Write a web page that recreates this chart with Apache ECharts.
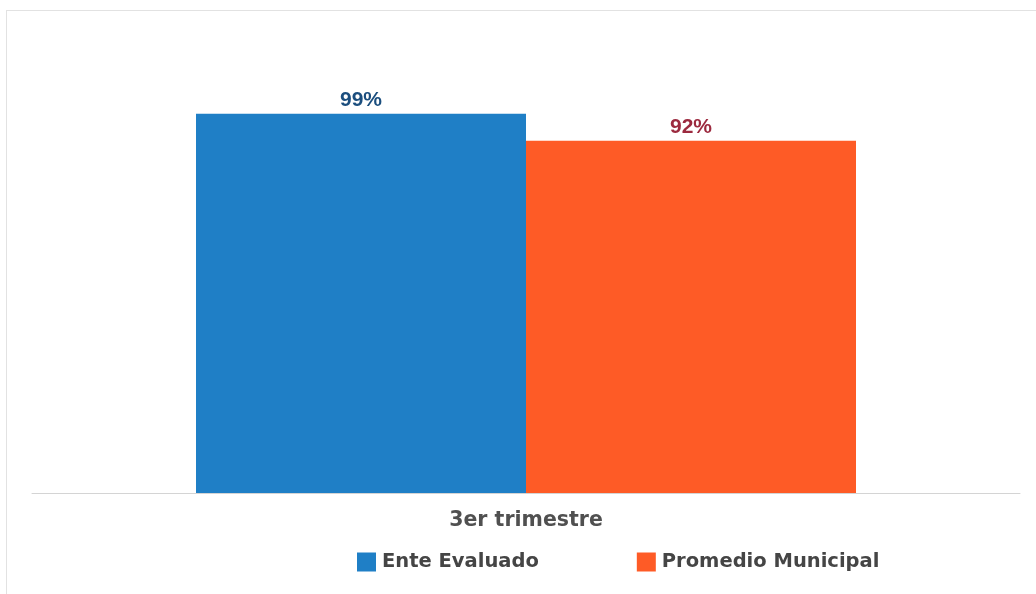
<!DOCTYPE html>
<html>
<head>
<meta charset="utf-8">
<script src="https://cdn.jsdelivr.net/npm/echarts@6/dist/echarts.min.js"></script>
<style>
    html, body { margin: 0; padding: 0; background: #fff; }
    #frame {
        position: absolute; left: 6px; top: 10px; width: 1040px; height: 600px;
        border-top: 1px solid #e2e2e2; border-left: 1px solid #e2e2e2;
    }
    #chart { position: absolute; left: 0; top: 0; width: 1036px; height: 594px; }
</style>
</head>
<body>
<div id="frame"></div>
<div id="chart"></div>
<script>
    // datos del gráfico
    const categories = ['3er trimestre'];
    const seriesNames = ['Ente Evaluado', 'Promedio Municipal'];
    const enteEvaluado = [99];
    const promedioMunicipal = [92];

    const barColors = ['#1f7fc6', '#fe5b26'];
    const labelColors = ['#1b4e7e', '#9c2a3f'];

    const chart = echarts.init(document.getElementById('chart'));
    chart.setOption({
        animation: false,
        grid: { left: 32, right: 16, top: 110, bottom: 101 },
        legend: {
            left: 357,
            top: 552,
            padding: 0,
            itemWidth: 19,
            itemHeight: 19,
            itemGap: 98,
            icon: 'rect',
            textStyle: {
                fontFamily: 'DejaVu Sans',
                fontWeight: 'bold',
                fontSize: 19.5,
                color: '#454545',
                padding: [0, 0, 0, 1]
            },
            data: seriesNames
        },
        xAxis: {
            type: 'category',
            data: categories,
            axisLine: { lineStyle: { color: '#d4d4d4', width: 1 } },
            axisTick: { show: false },
            axisLabel: {
                margin: 17,
                fontFamily: 'DejaVu Sans',
                fontWeight: 'bold',
                fontSize: 20.5,
                color: '#505050'
            }
        },
        yAxis: {
            type: 'value',
            min: 0,
            max: 100,
            show: false,
            splitLine: { show: false }
        },
        series: [
            {
                name: seriesNames[0],
                type: 'bar',
                data: enteEvaluado,
                barWidth: 330,
                barGap: '0%',
                itemStyle: { color: barColors[0] },
                label: {
                    show: true,
                    position: 'top',
                    distance: 3,
                    formatter: '{c}%',
                    fontFamily: 'Liberation Sans',
                    fontWeight: 'bold',
                    fontSize: 21,
                    color: labelColors[0]
                }
            },
            {
                name: seriesNames[1],
                type: 'bar',
                data: promedioMunicipal,
                barWidth: 330,
                barGap: '0%',
                itemStyle: { color: barColors[1] },
                label: {
                    show: true,
                    position: 'top',
                    distance: 3,
                    formatter: '{c}%',
                    fontFamily: 'Liberation Sans',
                    fontWeight: 'bold',
                    fontSize: 21,
                    color: labelColors[1]
                }
            }
        ]
    });
</script>
</body>
</html>
